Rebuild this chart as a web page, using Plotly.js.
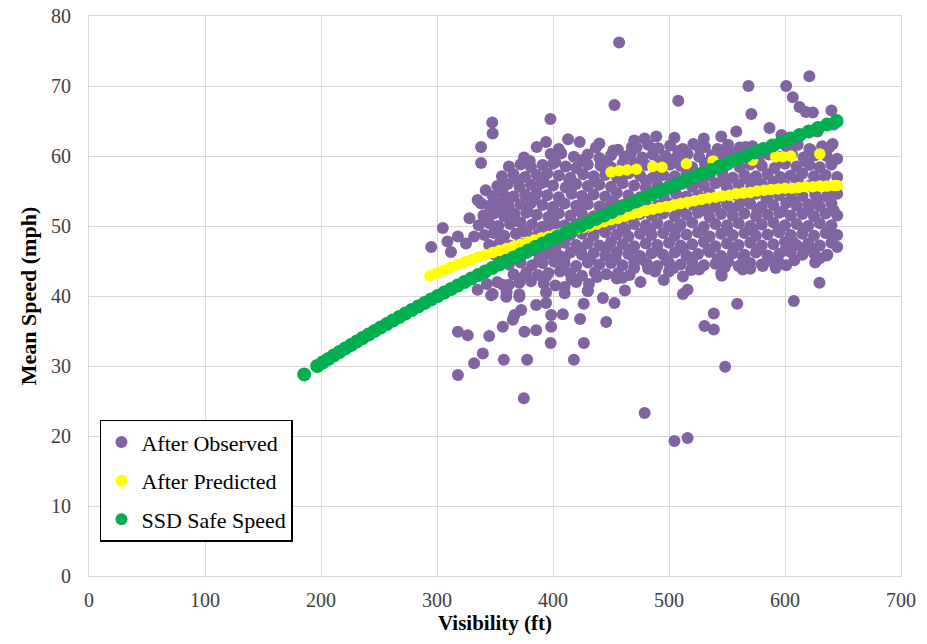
<!DOCTYPE html>
<html>
<head>
<meta charset="utf-8">
<script src="https://cdn.plot.ly/plotly-3.0.1.min.js"></script>
<style>
html,body{margin:0;padding:0;background:#ffffff;}
#chart{width:927px;height:644px;}
</style>
</head>
<body>
<div id="chart"></div>
<script>
// ---------- After Observed (purple) : dense cloud, read row by row ----------
var obsCoreX = [
386,394,413,423,456,472,482,491,501,512,521,531,542,551,561,572,581,591,602,611,621,632,641,
375,398,407,418,430,440,450,462,467,477,486,497,506,516,526,537,547,556,566,577,586,596,606,616,626,636,645,
362,372,381,391,400,411,420,430,441,450,460,471,480,490,501,510,520,531,540,550,561,570,580,591,600,610,621,630,640,
356,366,376,386,395,405,415,426,435,445,455,465,475,486,495,505,515,525,535,546,555,565,575,585,596,605,615,625,635,645,
352,361,371,381,390,400,411,420,430,440,450,460,470,480,490,500,511,520,530,540,550,560,571,580,590,600,610,620,631,641,
348,357,366,376,386,395,405,416,425,435,445,455,465,475,485,495,506,515,525,535,545,556,565,575,585,595,605,615,626,636,645,
345,353,362,372,381,391,400,410,420,430,440,450,460,470,480,490,500,510,521,530,540,550,560,570,580,590,601,610,620,630,640,
340,349,358,367,377,386,396,405,415,425,435,445,455,465,475,485,495,505,515,525,535,545,555,565,575,585,595,605,615,625,635,645,
336,345,353,363,372,382,391,401,410,420,430,440,450,460,470,480,490,500,510,520,530,540,550,560,570,580,590,600,610,620,630,640,
341,349,358,368,377,387,396,406,415,425,435,445,455,465,475,485,495,505,515,525,535,545,555,565,575,585,595,605,615,625,635,645,
345,354,363,372,382,391,401,410,420,430,440,450,460,470,480,490,500,510,520,530,540,550,560,570,580,590,600,610,620,630,640,
350,358,368,377,387,396,406,415,425,435,445,455,465,475,485,495,505,515,525,535,545,555,565,575,585,595,605,615,625,636,
362,372,382,391,401,410,420,430,440,450,460,470,481,490,500,510,520,530,540,551,560,570,580,590,601,
366,377,387,396,406,415,425,436,446,456,466,488,545,
343,352,362,371,381,392,402,420,431,
348,360,371,394,410,430
];
var obsCoreY = [
61.3,62.0,62.4,62.0,60.9,61.2,61.6,61.1,61.5,61.0,61.7,61.3,61.0,61.6,61.2,61.4,60.9,61.5,61.1,61.6,61.0,61.4,61.7,
59.8,60.3,60.4,59.9,60.2,59.7,60.1,59.9,60.4,59.8,60.2,60.0,59.7,60.3,59.9,60.1,59.8,60.4,60.0,59.7,60.2,59.9,60.3,59.8,60.1,60.0,59.6,
58.5,58.8,58.4,58.7,58.9,58.5,58.3,58.8,58.6,58.4,58.9,58.5,58.7,58.3,58.8,58.6,58.4,58.9,58.5,58.7,58.4,58.8,58.6,58.3,58.9,58.5,58.7,58.4,58.8,
57.1,57.4,57.0,57.3,57.5,57.2,56.9,57.4,57.1,57.3,57.0,57.5,57.2,56.9,57.3,57.1,57.4,57.0,57.2,57.5,56.9,57.3,57.1,57.4,57.0,57.2,57.5,57.1,57.3,57.0,
55.7,56.0,55.6,55.9,56.1,55.8,55.5,56.0,55.7,55.9,55.6,56.1,55.8,55.5,55.9,55.7,56.0,55.6,55.8,56.1,55.5,55.9,55.7,56.0,55.6,55.8,56.1,55.7,55.9,55.6,
54.3,54.6,54.2,54.5,54.7,54.4,54.1,54.6,54.3,54.5,54.2,54.7,54.4,54.1,54.5,54.3,54.6,54.2,54.4,54.7,54.1,54.5,54.3,54.6,54.2,54.4,54.7,54.3,54.5,54.2,54.6,
52.9,53.2,52.8,53.1,53.3,53.0,52.7,53.2,52.9,53.1,52.8,53.3,53.0,52.7,53.1,52.9,53.2,52.8,53.0,53.3,52.7,53.1,52.9,53.2,52.8,53.0,53.3,52.9,53.1,52.8,53.2,
51.5,51.8,51.4,51.7,51.9,51.6,51.3,51.8,51.5,51.7,51.4,51.9,51.6,51.3,51.7,51.5,51.8,51.4,51.6,51.9,51.3,51.7,51.5,51.8,51.4,51.6,51.9,51.5,51.7,51.4,51.8,51.5,
50.1,50.4,50.0,50.3,50.5,50.2,49.9,50.4,50.1,50.3,50.0,50.5,50.2,49.9,50.3,50.1,50.4,50.0,50.2,50.5,49.9,50.3,50.1,50.4,50.0,50.2,50.5,50.1,50.3,50.0,50.4,50.1,
48.7,49.0,48.6,48.9,49.1,48.8,48.5,49.0,48.7,48.9,48.6,49.1,48.8,48.5,48.9,48.7,49.0,48.6,48.8,49.1,48.5,48.9,48.7,49.0,48.6,48.8,49.1,48.7,48.9,48.6,49.0,48.7,
47.3,47.6,47.2,47.5,47.7,47.4,47.1,47.6,47.3,47.5,47.2,47.7,47.4,47.1,47.5,47.3,47.6,47.2,47.4,47.7,47.1,47.5,47.3,47.6,47.2,47.4,47.7,47.3,47.5,47.2,47.6,
45.9,46.2,45.8,46.1,46.3,46.0,45.7,46.2,45.9,46.1,45.8,46.3,46.0,45.7,46.1,45.9,46.2,45.8,46.0,46.3,45.7,46.1,45.9,46.2,45.8,46.0,46.3,45.9,46.1,45.8,
44.5,44.8,44.4,44.7,44.9,44.6,44.3,44.8,44.5,44.7,44.4,44.9,44.6,44.3,44.7,44.5,44.8,44.4,44.6,44.9,44.3,44.7,44.5,44.8,44.4,
43.1,43.4,43.0,43.3,43.5,43.2,42.9,43.4,43.1,43.3,43.0,43.5,43.2,
41.7,42.0,41.6,41.9,42.1,41.8,41.5,42.0,41.7,
40.3,40.6,40.2,40.5,40.4,40.7
];
// extra points read between the rows of the dense core
var obsFillX = [405,437,452,468,488,508,526,548,566,584,604,622,638,
                380,402,424,446,470,492,513,534,556,578,598,618,640,
                370,392,414,436,458,480,502,524,546,568,590,611,633,
                360,384,406,428,452,474,496,518,540,562,584,606,628,
                356,378,400,422,444,466,488,510,532,554,576,598,620,642,
                352,374,396,418,440,462,484,506,528,550,572,594,616,638,
                358,380,402,424,446,468,490,512,534,556,578,600,622,
                366,388,410,432,454,476,498,520,542,564,586,608,630,
                372,394,416,438,460,482,504,526,548,570,592];
var obsFillY = [61.0,61.2,60.8,61.3,61.0,60.7,61.2,60.9,61.3,60.8,61.1,60.9,61.2,
                59.3,59.1,59.4,59.2,59.0,59.3,59.5,59.1,59.3,59.0,59.4,59.2,59.3,
                56.5,56.3,56.6,56.4,56.7,56.5,56.2,56.6,56.4,56.7,56.3,56.5,56.6,
                53.7,53.9,53.6,53.8,53.5,53.9,53.7,53.6,53.8,53.5,53.9,53.7,53.6,
                52.3,52.1,52.4,52.2,52.5,52.3,52.1,52.4,52.2,52.5,52.3,52.1,52.4,52.2,
                49.5,49.3,49.6,49.4,49.7,49.5,49.3,49.6,49.4,49.7,49.5,49.3,49.6,49.4,
                46.7,46.5,46.8,46.6,46.9,46.7,46.5,46.8,46.6,46.9,46.7,46.5,46.8,
                45.3,45.1,45.4,45.2,45.5,45.3,45.1,45.4,45.2,45.5,45.3,45.1,45.4,
                42.5,42.8,42.4,42.7,42.6,43.9,44.0,43.8,44.1,43.9,44.0];
// upper outliers
var obsHighX = [457,453,347.6,348,397.8,338,338,621,568.5,601,606.7,612.5,618,624,640,508,571,479,489,504.7,558,586.6,545,530,597,628,642,470,440,407];
var obsHighY = [76.2,67.3,64.8,63.2,65.3,61.3,59.0,71.4,70.0,70.0,68.4,67.0,66.3,66.2,66.5,67.9,66.0,62.5,62.8,62.6,63.5,64.0,62.8,62.5,63.0,63.5,64.5,62.2,61.8,60.4];
// left fringe
var obsLeftX = [342,338,328,305,295,318,332,312,325,309,335];
var obsLeftY = [55.1,53.2,51.1,49.7,47.0,48.5,48.5,46.3,47.5,47.8,53.7];
// lower-left outliers
var obsLowLX = [318,326.5,345,318,332,339.5,357.6,377.7,374.8,418,426.6,398,385.5,375.4,356.7,366.8,372.6,365.3,398.4,398.4,408.5,423.4,445.9,453,443,426.5,430,418.5,410,394,385.5,371,359.7,346.7,335,356.7];
var obsLowLY = [34.9,34.4,34.3,28.7,30.4,31.8,30.9,30.9,25.4,30.9,33.3,33.3,35.1,34.9,35.6,37.3,38.0,36.6,35.6,37.3,37.4,36.7,36.3,39.0,39.7,38.9,40.7,42.3,41.3,39.0,38.7,39.9,39.9,40.1,40.9,41.6];
// lower-right outliers
var obsLowRX = [475.4,495.5,512,519,512,516,545.5,558.8,538.6,530.6,538.6,548.4,479,504.7,516,607.6,629.7,636.5,639.8,563.6,580.8,595,616.8,606.7,455,462,470,500,626,645];
var obsLowRY = [42.0,42.3,42.8,43.7,40.3,40.9,42.9,38.9,37.5,35.7,35.2,29.9,23.3,19.3,19.7,39.3,41.9,45.9,48.7,43.8,44.3,44.7,46.8,47.8,42.5,40.8,44.0,43.5,44.8,47.0];

// ---------- After Predicted (yellow) ----------
var predX = [294,300,306,312,318,324,330,336,342,348,354,360,366,372,378,384,390,396,402,408,414,420,426,432,438,444,450,456,462,468,474,480,486,492,498,504,510,516,522,528,534,540,546,552,558,564,570,576,582,588,594,600,606,612,618,624,630,636,642,645,
             450,457,464,472,486,494,515,538,572,592,598,605,630];
var predY = [42.9,43.3,43.7,44.1,44.5,44.9,45.2,45.6,45.9,46.2,46.5,46.8,47.1,47.4,47.7,48.0,48.3,48.5,48.8,49.0,49.3,49.5,49.8,50.0,50.3,50.6,50.9,51.1,51.4,51.7,51.9,52.2,52.4,52.6,52.8,53.0,53.2,53.4,53.6,53.8,54.0,54.1,54.3,54.4,54.6,54.7,54.8,55.0,55.1,55.2,55.3,55.4,55.4,55.5,55.6,55.6,55.7,55.7,55.8,55.8,
             57.7,57.9,58.0,58.1,58.5,58.4,58.9,59.3,59.4,59.9,59.9,60.0,60.3];

// ---------- SSD Safe Speed (green) ----------
var ssdX = [185.5,196.7,201.4,206.2,211.0,215.9,220.8,225.8,230.9,235.9,241.1,246.2,251.4,256.7,262.0,267.4,272.8,278.3,283.8,289.3,294.9,300.6,306.3,312.1,317.9,323.7,329.6,335.5,341.5,347.6,353.6,359.8,366.0,372.2,378.5,384.8,391.2,397.6,404.1,410.6,417.1,423.8,430.4,437.1,443.9,450.7,457.5,464.4,471.4,478.4,485.4,492.5,499.7,506.9,514.1,521.4,528.7,536.1,543.5,551.0,558.5,566.1,573.7,581.4,589.1,596.9,604.7,612.6,620.5,628.4,636.4,644.5];
var ssdY = [28.8,30.0,30.5,31.0,31.5,32.0,32.5,33.0,33.5,34.0,34.5,35.0,35.5,36.0,36.5,37.0,37.5,38.0,38.5,39.0,39.5,40.0,40.5,41.0,41.5,42.0,42.5,43.0,43.5,44.0,44.5,45.0,45.5,46.0,46.5,47.0,47.5,48.0,48.5,49.0,49.5,50.0,50.5,51.0,51.5,52.0,52.5,53.0,53.5,54.0,54.5,55.0,55.5,56.0,56.5,57.0,57.5,58.0,58.5,59.0,59.5,60.0,60.5,61.0,61.5,62.0,62.5,63.0,63.5,64.0,64.5,65.0];

var xTicks = [0,100,200,300,400,500,600,700];
var yTicks = [0,10,20,30,40,50,60,70,80];
var seriesNames = ['After Observed','After Predicted','SSD Safe Speed'];

var obsX = obsCoreX.concat(obsFillX, obsHighX, obsLeftX, obsLowLX, obsLowRX);
var obsY = obsCoreY.concat(obsFillY, obsHighY, obsLeftY, obsLowLY, obsLowRY);

var serif = '"Liberation Serif", "Times New Roman", serif';

var traces = [
  {type:'scatter', mode:'markers', name:seriesNames[0], x:obsX, y:obsY, legendgroup:'a',
   marker:{color:'#8064A2', size:12, line:{width:0}}},
  {type:'scatter', mode:'markers', name:seriesNames[1], x:predX, y:predY, legendgroup:'b',
   marker:{color:'#FFFF00', size:11.5, line:{width:0}}},
  {type:'scatter', mode:'markers', name:seriesNames[2], x:ssdX, y:ssdY, legendgroup:'c',
   marker:{color:'#00B050', size:14, line:{width:0}}}
];

var layout = {
  width:927, height:644,
  margin:{l:89, r:26, t:16, b:68},
  paper_bgcolor:'#ffffff', plot_bgcolor:'#ffffff',
  font:{family:serif, color:'#404040', size:20},
  showlegend:true,
  legend:{x:0.0135, y:0.279, xanchor:'left', yanchor:'top',
    bgcolor:'#ffffff', bordercolor:'#000000', borderwidth:1.5,
    font:{family:serif, size:22, color:'#000000'},
    itemsizing:'constant',
    traceorder:'grouped', tracegroupgap:7},
  xaxis:{range:[0,700], tickvals:xTicks, ticktext:xTicks.map(String),
    showgrid:true, gridcolor:'#d9d9d9', gridwidth:1,
    zeroline:false, showline:true, linecolor:'#d9d9d9', linewidth:1, mirror:true,
    ticks:'', ticklabelstandoff:6,
    tickfont:{family:serif, size:20, color:'#404040'},
    title:{text:'<b>Visibility (ft)</b>', font:{family:serif, size:21, color:'#000000'}, standoff:2}},
  yaxis:{range:[0,80], tickvals:yTicks, ticktext:yTicks.map(String),
    showgrid:true, gridcolor:'#d9d9d9', gridwidth:1,
    zeroline:false, showline:true, linecolor:'#d9d9d9', linewidth:1, mirror:true,
    ticks:'', ticklabelstandoff:13,
    tickfont:{family:serif, size:20, color:'#404040'},
    title:{text:'<b>Mean Speed (mph)</b>', font:{family:serif, size:22, color:'#000000'}, standoff:8}}
};

Plotly.newPlot('chart', traces, layout, {displayModeBar:false, staticPlot:true});
</script>
</body>
</html>
